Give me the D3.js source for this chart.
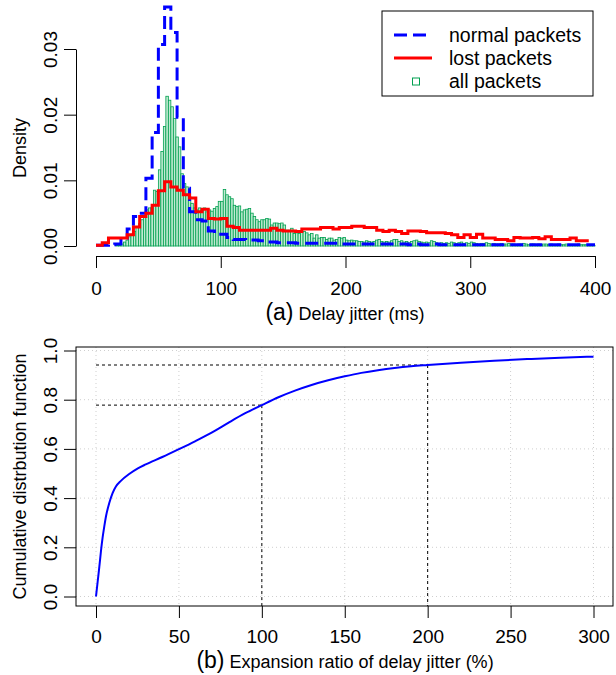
<!DOCTYPE html>
<html>
<head>
<meta charset="utf-8">
<script src="https://cdn.jsdelivr.net/npm/d3@7"></script>
<style>
  body { margin: 0; background: #fff; }
  svg { display: block; font-family: "Liberation Sans", Arial, Helvetica, sans-serif; }
</style>
</head>
<body>
<div id="container"></div>
<script>
// (a) delay jitter histograms, density per bin
// all packets: 2 ms bins starting at 0
const allBinWidth = 2;
const allPackets = [
  0, 0, 0, 0, 0, 0, 0, 0, 0.0001, 0.0001,
  0.0003, 0.0006, 0.0009, 0.0014, 0.0018, 0.0022, 0.0028, 0.0034, 0.0040, 0.0046,
  0.0055, 0.0058, 0.0059, 0.0085, 0.0083, 0.0116, 0.0144, 0.0182, 0.0228, 0.0222,
  0.0212, 0.0194, 0.0166, 0.0151, 0.0110, 0.0095, 0.0090, 0.0075, 0.0065, 0.0058,
  0.0055, 0.0058, 0.0054, 0.0058, 0.0052, 0.0055, 0.0053, 0.0057, 0.0060, 0.0068,
  0.0068, 0.0086, 0.0078, 0.0075, 0.0072, 0.0062, 0.0060, 0.0061, 0.0052, 0.0055,
  0.0056, 0.0057, 0.0050, 0.0045, 0.0040, 0.0037, 0.0040, 0.0040, 0.0042, 0.0041,
  0.0032, 0.0035, 0.0035, 0.0034, 0.0035, 0.0032, 0.0024, 0.0024, 0.0027, 0.0019,
  0.0020, 0.0019, 0.0022, 0.0022, 0.0020, 0.0017, 0.0019, 0.0012, 0.0017, 0.0012,
  0.0013, 0.0013, 0.0010, 0.0012, 0.0012, 0.0009, 0.0010, 0.0013, 0.0012, 0.0013,
  0.0009, 0.0008, 0.0009, 0.0008, 0.0008, 0.0007, 0.0007, 0.0006, 0.0008, 0.0007,
  0.0006, 0.0007, 0.0009, 0.0010, 0.0007, 0.0006, 0.0007, 0.0006, 0.0008, 0.0010,
  0.0010, 0.0007, 0.0008, 0.0006, 0.0007, 0.0005, 0.0007, 0.0008, 0.0009, 0.0007,
  0.0006, 0.0005, 0.0006, 0.0005, 0.0008, 0.0007, 0.0005, 0.0004, 0.0005, 0.0004,
  0.0005, 0.0004, 0.0006, 0.0005, 0.0004, 0.0005, 0.0006, 0.0004, 0.0005, 0.0004,
  0.0006, 0.0005, 0.0004, 0.0003, 0.0004, 0.0004, 0.0005, 0.0004, 0.0003, 0.0004,
  0.0003, 0.0003, 0.0004, 0.0003, 0.0003, 0.0004, 0.0003, 0.0003, 0.0002, 0.0003,
  0.0003, 0.0004, 0.0003, 0.0002, 0.0003, 0.0003, 0.0002, 0.0003, 0.0002, 0.0003,
  0.0003, 0.0002, 0.0003, 0.0002, 0.0002, 0.0003, 0.0002, 0.0002, 0.0003, 0.0002,
  0.0002, 0.0002, 0.0002, 0.0003, 0.0002, 0.0002, 0.0002, 0.0002, 0.0002, 0.0001
];

// normal and lost packets: 5 ms bins starting at 0
const lineBinWidth = 5;
const normalPackets = [
  0.0001, 0.0001, 0.0002, 0.0003, 0.0012, 0.0026, 0.0045, 0.0050, 0.0103, 0.0173,
  0.0307, 0.0364, 0.0325, 0.0196, 0.0088, 0.0052, 0.0040, 0.0038, 0.0023, 0.0022,
  0.0018, 0.0013, 0.0010, 0.0010, 0.0009, 0.0009, 0.0008, 0.0006, 0.0006, 0.0005,
  0.0005, 0.0005, 0.0004, 0.0004, 0.0004, 0.0004, 0.0004, 0.0004, 0.0004, 0.0003,
  0.0003, 0.0003, 0.0003, 0.0003, 0.0003, 0.0003, 0.0003, 0.0003, 0.0003, 0.0003,
  0.0002, 0.0003, 0.0002, 0.0002, 0.0003, 0.0002, 0.0002, 0.0002, 0.0002, 0.0002,
  0.0002, 0.0002, 0.0002, 0.0002, 0.0002, 0.0002, 0.0002, 0.0002, 0.0002, 0.0002,
  0.0002, 0.0002, 0.0002, 0.0002, 0.0002, 0.0002, 0.0002, 0.0002, 0.0002, 0.0002
];
const lostPackets = [
  0.0001, 0.0005, 0.0012, 0.0012, 0.0012, 0.0017, 0.0029, 0.0045, 0.0050, 0.0062,
  0.0084, 0.0098, 0.0090, 0.0085, 0.0078, 0.0073, 0.0052, 0.0056, 0.0042, 0.0041,
  0.0042, 0.0030, 0.0028, 0.0024, 0.0024, 0.0024, 0.0024, 0.0024, 0.0027, 0.0024,
  0.0023, 0.0023, 0.0022, 0.0026, 0.0026, 0.0026, 0.0028, 0.0028, 0.0026, 0.0028,
  0.0028, 0.0030, 0.0030, 0.0028, 0.0028, 0.0024, 0.0022, 0.0024, 0.0022, 0.0019,
  0.0023, 0.0023, 0.0022, 0.0020, 0.0020, 0.0020, 0.0019, 0.0017, 0.0013, 0.0017,
  0.0013, 0.0018, 0.0012, 0.0012, 0.0010, 0.0010, 0.0008, 0.0013, 0.0012, 0.0012,
  0.0013, 0.0011, 0.0014, 0.0010, 0.0010, 0.0010, 0.0012, 0.0008, 0.0008
];

const topXTicks = [0, 100, 200, 300, 400];
const topYTicks = [0, 0.01, 0.02, 0.03];
const legendLabels = ["normal packets", "lost packets", "all packets"];

// (b) CDF of expansion ratio of delay jitter (%)
const cdfX = [0, 1, 2, 3, 4, 5, 6, 8, 10, 12, 15, 20, 25, 30, 40, 50, 60, 70, 80, 90,
  100, 110, 120, 130, 140, 150, 160, 170, 180, 190, 200, 220, 240, 260, 280, 300];
const cdfY = [0, 0.06, 0.12, 0.185, 0.24, 0.285, 0.325, 0.38, 0.42, 0.447, 0.47, 0.498, 0.52, 0.537, 0.567, 0.599, 0.632, 0.667, 0.707, 0.745,
  0.778, 0.81, 0.837, 0.86, 0.879, 0.895, 0.909, 0.92, 0.929, 0.936, 0.941, 0.95, 0.958, 0.965, 0.971, 0.975];
const refX = [100, 200];
const refY = [0.778, 0.941];
const botXTicks = [0, 50, 100, 150, 200, 250, 300];
const botYTicks = [0, 0.2, 0.4, 0.6, 0.8, 1.0];

const width = 616, height = 675;
const ink = "#000";
const FONT_TICK = "19px";
const FONT_LAB = "18px";

const svg = d3.select("#container").append("svg")
  .attr("width", width).attr("height", height);

// ---------- panel (a) ----------
const xTop = d3.scaleLinear().domain([0, 400]).range([96, 595]);
const yTop = d3.scaleLinear().domain([0, 0.03]).range([246, 49]);

// green histogram
svg.append("g").selectAll("rect")
  .data(allPackets.map((v, i) => ({ x0: i * allBinWidth, v })).filter(d => d.v > 0))
  .join("rect")
  .attr("x", d => xTop(d.x0))
  .attr("width", d => xTop(d.x0 + allBinWidth) - xTop(d.x0))
  .attr("y", d => yTop(d.v))
  .attr("height", d => yTop(0) - yTop(d.v))
  .attr("fill", "#c2ead2")
  .attr("stroke", "#00a050")
  .attr("stroke-width", 0.8);

function stepPts(arr) {
  const pts = arr.map((v, i) => [i * lineBinWidth, v]);
  pts.push([arr.length * lineBinWidth, arr[arr.length - 1]]);
  return pts;
}
const step = d3.line().x(d => xTop(d[0])).y(d => yTop(d[1])).curve(d3.curveStepAfter);

svg.append("path")
  .attr("d", step(stepPts(normalPackets)))
  .attr("fill", "none")
  .attr("stroke", "#0000ff")
  .attr("stroke-width", 3)
  .attr("stroke-dasharray", "13,6");

svg.append("path")
  .attr("d", step(stepPts(lostPackets)))
  .attr("fill", "none")
  .attr("stroke", "#ff0000")
  .attr("stroke-width", 3);

// axes
const axTopX = svg.append("g").attr("transform", "translate(0,256)")
  .call(d3.axisBottom(xTop).tickValues(topXTicks).tickSize(12).tickSizeOuter(0).tickPadding(14));
const axTopY = svg.append("g").attr("transform", "translate(76,0)")
  .call(d3.axisLeft(yTop).tickValues(topYTicks).tickFormat(d3.format(".2f")).tickSize(12).tickSizeOuter(0));

function styleAxis(ax) {
  ax.select(".domain").attr("stroke", ink);
  ax.selectAll(".tick line").attr("stroke", ink);
  ax.selectAll("text").attr("fill", ink).style("font-size", FONT_TICK).style("font-family", null);
}
function rotateY(ax) {
  ax.selectAll(".tick text")
    .attr("transform", "rotate(-90)")
    .attr("x", 0).attr("dy", null)
    .attr("y", -19)
    .attr("text-anchor", "middle");
}
styleAxis(axTopX);
styleAxis(axTopY);
rotateY(axTopY);
axTopX.selectAll(".tick text").attr("dy", "0.71em");

svg.append("text")
  .attr("transform", "translate(20,148) rotate(-90)")
  .attr("text-anchor", "middle").attr("dy", "0.35em")
  .attr("fill", ink).style("font-size", FONT_LAB)
  .text("Density");

const titleA = svg.append("text")
  .attr("x", 345).attr("y", 320)
  .attr("text-anchor", "middle").attr("fill", ink);
titleA.append("tspan").style("font-size", "23px").text("(a)");
titleA.append("tspan").style("font-size", FONT_LAB).text(" Delay jitter (ms)");

// legend
const lg = svg.append("g");
lg.append("rect").attr("x", 382).attr("y", 11).attr("width", 211).attr("height", 85)
  .attr("fill", "#fff").attr("stroke", ink).attr("stroke-width", 1);
const lgY = [35, 58, 81.5];
lg.append("line").attr("x1", 394).attr("x2", 432).attr("y1", lgY[0]).attr("y2", lgY[0])
  .attr("stroke", "#0000ff").attr("stroke-width", 3).attr("stroke-dasharray", "13,6");
lg.append("line").attr("x1", 394).attr("x2", 432).attr("y1", lgY[1]).attr("y2", lgY[1])
  .attr("stroke", "#ff0000").attr("stroke-width", 3);
lg.append("rect").attr("x", 412.5).attr("y", lgY[2] - 3.5).attr("width", 7).attr("height", 7)
  .attr("fill", "#fff").attr("stroke", "#00a050").attr("stroke-width", 1);
lg.selectAll("text.lab").data(legendLabels).join("text")
  .attr("class", "lab")
  .attr("x", 449).attr("y", (d, i) => lgY[i]).attr("dy", "0.35em")
  .attr("fill", ink).style("font-size", "19.5px")
  .text(d => d);

// ---------- panel (b) ----------
const xBot = d3.scaleLinear().domain([0, 300]).range([96, 593.5]);
const yBot = d3.scaleLinear().domain([0, 1]).range([596.5, 350.5]);
const frame = { x0: 76, x1: 613, y0: 347, y1: 606 };

// dotted grid
const grid = svg.append("g").attr("stroke", "#cfcfcf").attr("stroke-width", 1).attr("stroke-dasharray", "1,3");
botXTicks.forEach(v => grid.append("line")
  .attr("x1", xBot(v)).attr("x2", xBot(v)).attr("y1", frame.y0).attr("y2", frame.y1));
botYTicks.forEach(v => grid.append("line")
  .attr("x1", frame.x0).attr("x2", frame.x1).attr("y1", yBot(v)).attr("y2", yBot(v)));

// reference dashed lines
const ref = svg.append("g").attr("stroke", ink).attr("stroke-width", 1).attr("stroke-dasharray", "3,3").attr("fill", "none");
refX.forEach((xv, i) => {
  ref.append("line").attr("x1", xBot(0)).attr("x2", xBot(xv)).attr("y1", yBot(refY[i])).attr("y2", yBot(refY[i]));
  ref.append("line").attr("x1", xBot(xv)).attr("x2", xBot(xv)).attr("y1", yBot(refY[i])).attr("y2", frame.y1);
});

svg.append("path")
  .attr("d", d3.line().x((d, i) => xBot(cdfX[i])).y(d => yBot(d)).curve(d3.curveMonotoneX)(cdfY))
  .attr("fill", "none")
  .attr("stroke", "#0000ff")
  .attr("stroke-width", 2);

svg.append("rect")
  .attr("x", frame.x0).attr("y", frame.y0)
  .attr("width", frame.x1 - frame.x0).attr("height", frame.y1 - frame.y0)
  .attr("fill", "none").attr("stroke", ink).attr("stroke-width", 1);

const axBotX = svg.append("g").attr("transform", `translate(0,${frame.y1})`)
  .call(d3.axisBottom(xBot).tickValues(botXTicks).tickSize(12).tickSizeOuter(0).tickPadding(12));
axBotX.select(".domain").remove();
const axBotY = svg.append("g").attr("transform", `translate(${frame.x0},0)`)
  .call(d3.axisLeft(yBot).tickValues(botYTicks).tickFormat(d3.format(".1f")).tickSize(12).tickSizeOuter(0));
axBotY.select(".domain").remove();
styleAxis(axBotX);
styleAxis(axBotY);
rotateY(axBotY);
axBotX.selectAll(".tick text").attr("dy", "0.71em");

svg.append("text")
  .attr("transform", `translate(20,${(frame.y0 + frame.y1) / 2}) rotate(-90)`)
  .attr("text-anchor", "middle").attr("dy", "0.35em")
  .attr("fill", ink).style("font-size", FONT_LAB)
  .text("Cumulative distrbution function");

const titleB = svg.append("text")
  .attr("x", 345).attr("y", 668)
  .attr("text-anchor", "middle").attr("fill", ink);
titleB.append("tspan").style("font-size", "23px").text("(b)");
titleB.append("tspan").style("font-size", FONT_LAB).text(" Expansion ratio of delay jitter (%)");
</script>
</body>
</html>
